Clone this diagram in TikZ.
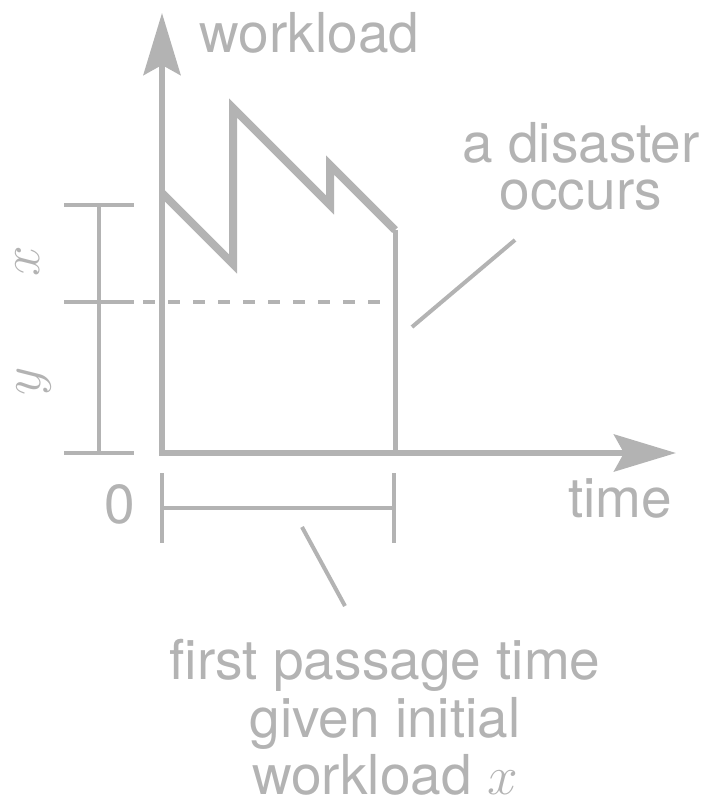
\RequirePackage{fix-cm}
\documentclass[tikz,border=0pt]{standalone}
\usepackage{xcolor}
\usepackage{fontspec}
\setmainfont{TeX Gyre Heros}
\usetikzlibrary{arrows.meta}

\definecolor{plotgray}{RGB}{179,179,179}
\tikzset{
    axistip/.tip={Stealth[length=31pt, width=18.5pt, inset=5pt]},
    label/.style={text=plotgray, inner sep=0pt, font=\fontsize{27.5}{29}\selectfont},
    axis/.style={draw=plotgray, line width=3pt, miter limit=10, axistip-axistip},
    workload/.style={draw=plotgray, line width=4pt, line join=miter, miter limit=10},
    drop/.style={draw=plotgray, line width=2.5pt},
    bracket/.style={draw=plotgray, line width=2pt},
    leader/.style={draw=plotgray, line width=2pt},
    level/.style={draw=plotgray, line width=2pt, dash pattern=on 6pt off 6.5pt}
}

\begin{document}
\begin{tikzpicture}[x=0.5pt, y=-0.5pt]
    \useasboundingbox (0,0) rectangle (708,798);

    % points of the plot
    \coordinate (origin) at (162,453);
    \coordinate (ytop) at (162,13);
    \coordinate (xend) at (676,453);
    \coordinate (hit) at (395,230);
    \coordinate (hitbase) at (395,453);

    % axes
    \draw[axis] (ytop) -- (origin) -- (xend);

    % workload path until the disaster
    \draw[workload] (162,193) -- (233,264) -- (233,108) -- (330,205) -- (330,165) -- (hit);
    \draw[drop] (hit) -- (hitbase);
    \draw[level] (143,302) -- (395,302);

    % bracket for x and y
    \draw[bracket] (99,205) -- (99,453);
    \foreach \yy in {205,302,453}
        \draw[bracket] (64,\yy) -- (134,\yy);

    % bracket for the first passage time
    \draw[bracket] (162,508) -- (394,508);
    \foreach \xx in {162,394}
        \draw[bracket] (\xx,473) -- (\xx,543);

    % labels
    \node[label, anchor=base west] (ylabel) at (199,52) {workload};
    \node[label, anchor=base west] (xlabel) at (568,517) {time};
    \node[label, anchor=base] (zero) at (120,523) {0};
    \node[label, rotate=90] (xlen) at (28,261) {$x$};
    \node[label, rotate=90] (ylen) at (34,381) {$y$};
    \node[label, anchor=north, align=center, font=\fontsize{27.5}{23.5}\selectfont] (disaster) at (581,122) {a disaster\\occurs};
    \node[label, anchor=north, align=center, font=\fontsize{27.5}{28.8}\selectfont] (passage) at (385,639) {first passage time\\given initial\\workload $x$};

    % leaders to the labels
    \coordinate (disasterfoot) at (515,240);
    \coordinate (disasterhead) at (412,327);
    \coordinate (passagefoot) at (302,527);
    \coordinate (passagehead) at (345,606);
    \draw[leader] (disasterhead) -- (disasterfoot);
    \draw[leader] (passagefoot) -- (passagehead);
\end{tikzpicture}
\end{document}
